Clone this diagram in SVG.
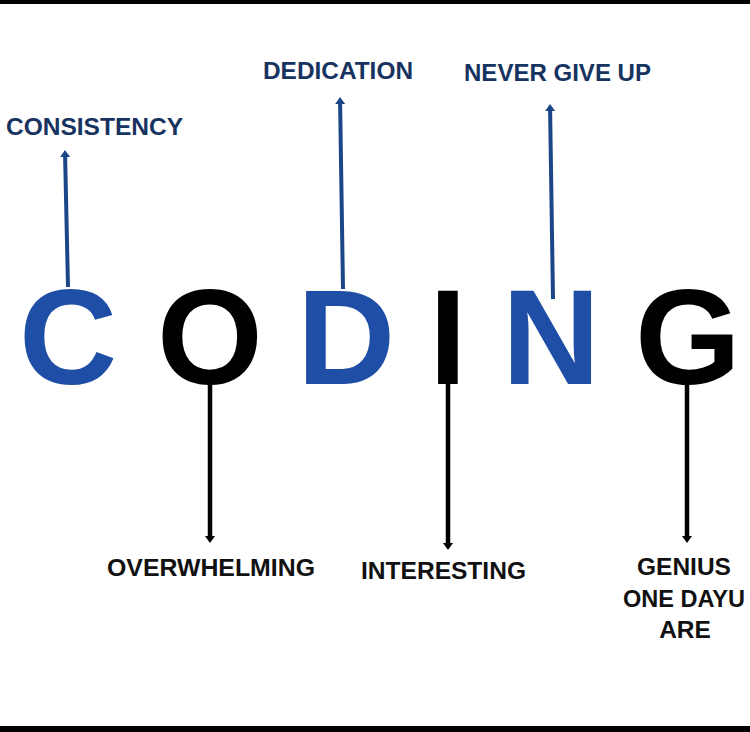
<svg xmlns="http://www.w3.org/2000/svg" width="750" height="732" viewBox="0 0 750 732">
<style>
.big{font-family:"Liberation Sans",Arial,sans-serif;font-weight:bold;font-size:136px;text-anchor:middle}
.blue{fill:#1f4ea6}
.blk{fill:#000}
.lbl{font-family:"Liberation Sans",Arial,sans-serif;font-weight:bold;font-size:24.5px}
.top{fill:#17335f}
.bot{fill:#111}
.cb{stroke:#1d4689;stroke-width:4;fill:none}
.ck{stroke:#000;stroke-width:4.5;fill:none}
</style>
<defs>
<marker id="ab" viewBox="0 0 7 10" refX="1" refY="5" markerWidth="7" markerHeight="10" markerUnits="userSpaceOnUse" orient="auto">
<path d="M0,0 L7,5 L0,10 z" fill="#1d4689"/>
</marker>
<marker id="ak" viewBox="0 0 7 10" refX="1" refY="5" markerWidth="7" markerHeight="10" markerUnits="userSpaceOnUse" orient="auto">
<path d="M0,0 L7,5 L0,10 z" fill="#000"/>
</marker>
</defs>
<rect x="0" y="0" width="750" height="732" fill="#fff"/>
<rect x="0" y="0" width="750" height="4" fill="#000"/>
<rect x="0" y="726" width="750" height="6" fill="#000"/>
<g id="connectors">
<line class="cb" x1="68" y1="287" x2="65.1" y2="156" marker-end="url(#ab)"/>
<line class="cb" x1="343" y1="289" x2="340.1" y2="103" marker-end="url(#ab)"/>
<line class="cb" x1="553" y1="299" x2="550.1" y2="110" marker-end="url(#ab)"/>
<line class="ck" x1="210" y1="380" x2="210" y2="537" marker-end="url(#ak)"/>
<line class="ck" x1="448" y1="380" x2="448" y2="544" marker-end="url(#ak)"/>
<line class="ck" x1="687" y1="380" x2="687" y2="537" marker-end="url(#ak)"/>
</g>
<g id="letter-C"><text class="big blue" x="68" y="384">C</text></g>
<g id="letter-O"><text class="big blk" x="210" y="384">O</text></g>
<g id="letter-D"><text class="big blue" x="346" y="384">D</text></g>
<g id="letter-I"><text class="big blk" x="448" y="384">I</text></g>
<g id="letter-N"><text class="big blue" x="551" y="384">N</text></g>
<g id="letter-G"><text class="big blk" x="688" y="384">G</text></g>
<g id="label-consistency"><text class="lbl top" x="6" y="135" textLength="177" lengthAdjust="spacingAndGlyphs">CONSISTENCY</text></g>
<g id="label-dedication"><text class="lbl top" x="263" y="79" textLength="150" lengthAdjust="spacingAndGlyphs">DEDICATION</text></g>
<g id="label-never"><text class="lbl top" x="464" y="81" textLength="187" lengthAdjust="spacingAndGlyphs">NEVER GIVE UP</text></g>
<g id="label-overwhelming"><text class="lbl bot" x="107" y="576" textLength="208" lengthAdjust="spacingAndGlyphs">OVERWHELMING</text></g>
<g id="label-interesting"><text class="lbl bot" x="361" y="579" textLength="165" lengthAdjust="spacingAndGlyphs">INTERESTING</text></g>
<g id="label-genius"><text class="lbl bot" text-anchor="middle" x="684" y="575">GENIUS</text><text class="lbl bot" text-anchor="middle" x="684" y="607" textLength="122" lengthAdjust="spacingAndGlyphs">ONE DAYU</text><text class="lbl bot" text-anchor="middle" x="685" y="638">ARE</text></g>
</svg>
